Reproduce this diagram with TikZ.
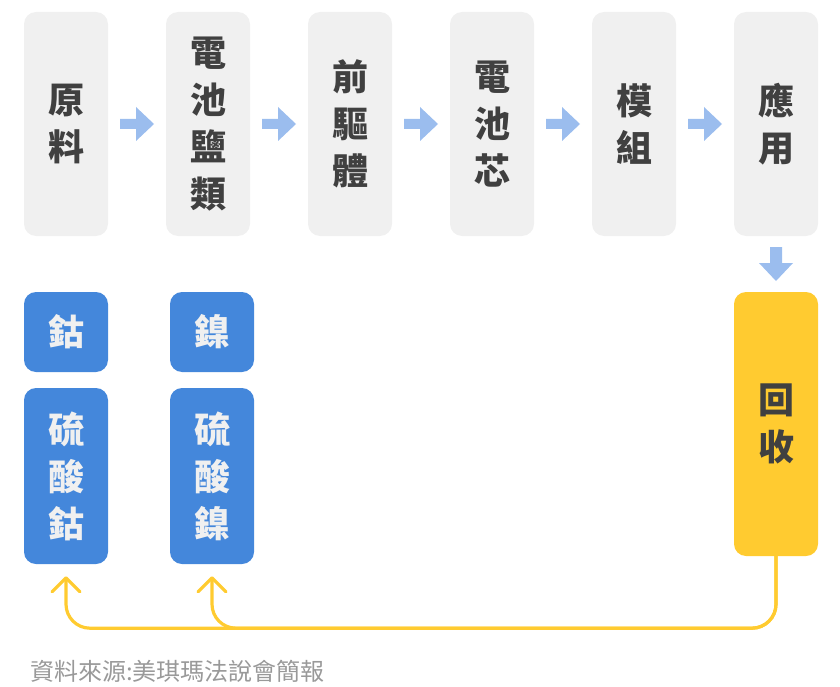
\documentclass[tikz,border=0pt]{standalone}
\usepackage{fontspec}
\setmainfont{Noto Sans CJK TC}
\usetikzlibrary{arrows.meta,calc}
\definecolor{flowgray}{HTML}{F0F0F0}
\definecolor{flowink}{HTML}{404040}
\definecolor{flowblue}{HTML}{4487DB}
\definecolor{flowwhite}{HTML}{F0F0F0}
\definecolor{flowyel}{HTML}{FFCB30}
\definecolor{flowarr}{HTML}{9BBDEE}
\definecolor{flowmute}{HTML}{999999}
\tikzset{
  bx/.style={rounded corners=12pt, align=center, minimum width=84pt, inner sep=0pt, font=\fontsize{36}{47}\selectfont\bfseries},
  gry/.style={bx, fill=flowgray, text=flowink, minimum height=224pt},
  blu/.style={bx, fill=flowblue, text=flowwhite},
  yel/.style={bx, fill=flowyel, text=flowink},
  flow/.style={fill=flowarr},
  ret/.style={-{Straight Barb[length=14pt, width=28pt, round]}, line width=3.2pt, color=flowyel, rounded corners=24pt, line cap=round},
  src/.style={font=\fontsize{24}{30}\selectfont, text=flowmute, anchor=west, inner sep=0pt},
}

\begin{document}
\begin{tikzpicture}[x=1pt, y=-1pt]
  \useasboundingbox (0,0) rectangle (840,687);
  \foreach \k/\nm in {0/{原\\料}, 1/{電\\池\\鹽\\類}, 2/{前\\驅\\體}, 3/{電\\池\\芯}, 4/{模\\組}, 5/{應\\用}}
    \node[gry] (s\k) at (66+142*\k, 124) {\nm};
  \foreach \k [count=\j] in {0,...,4}
    \fill[flow] ($(s\k.east)!0.5!(s\j.west)$) ++(-17,-5) -- ++(16,0) -- ++(0,-12) -- ++(18,17) -- ++(-18,17) -- ++(0,-12) -- ++(-16,0) -- cycle;
  \node[blu, minimum height=80pt] (c1) at (66,332) {鈷};
  \node[blu, minimum height=80pt] (n1) at (212,332) {鎳};
  \node[blu, minimum height=176pt] (c2) at (66,476) {硫\\酸\\鈷};
  \node[blu, minimum height=176pt] (n2) at (212,476) {硫\\酸\\鎳};
  \node[yel, minimum height=264pt] (rc) at (776,424) {回\\收};
  \fill[flow] ($(s5.south)!0.5!(rc.north)$) ++(-6,-17) -- ++(0,16) -- ++(-11,0) -- ++(17,18) -- ++(17,-18) -- ++(-11,0) -- ++(0,-16) -- cycle;
  \draw[ret, shorten >=12pt] (rc.south) |- ($(c2.south)+(0,64)$) -- (c2.south);
  \draw[ret, shorten >=12pt] (rc.south) |- ($(n2.south)+(0,64)$) -- (n2.south);
  \node[src] (note) at (30,671) {資料來源:美琪瑪法說會簡報};
\end{tikzpicture}
\end{document}
